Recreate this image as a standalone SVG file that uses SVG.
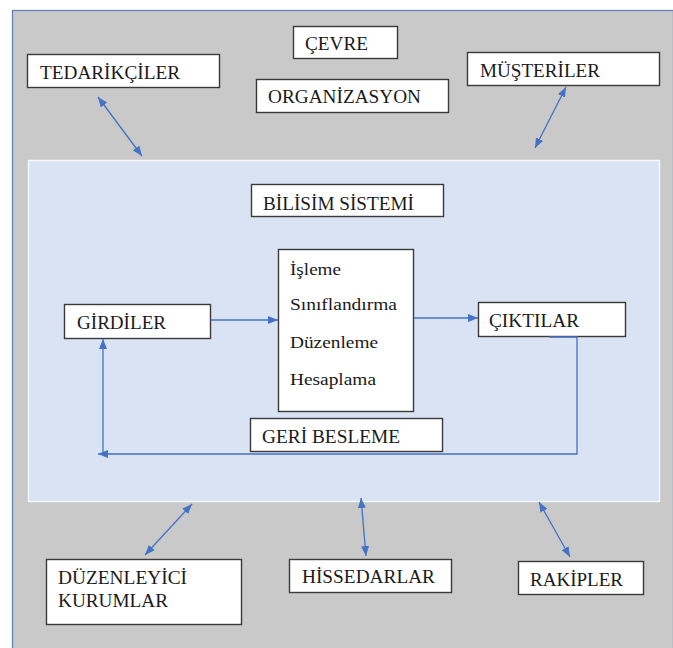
<svg xmlns="http://www.w3.org/2000/svg" width="673" height="648" viewBox="0 0 673 648">
<style>
.box{fill:#ffffff;stroke:#3a3a3a;stroke-width:1.4}
.t{font-size:19px;fill:#1a1a1a}
.p{font-size:16.5px;fill:#1a1a1a}
.c{fill:none;stroke:#4472c4;stroke-width:1.3}
</style>
<defs>
<marker id="ah" viewBox="0 0 10 8" refX="10" refY="4" markerWidth="10" markerHeight="8" markerUnits="userSpaceOnUse" orient="auto-start-reverse">
<path d="M0,0 L10,4 L0,8 z" fill="#4472c4"/>
</marker>
</defs>
<rect x="0" y="0" width="673" height="648" fill="#ffffff"/>
<rect id="frame" x="12.5" y="10.5" width="661" height="640" fill="#c9c9c9" stroke="#6683b5" stroke-width="1.3"/>
<rect id="bilisim-area" x="28.5" y="160.5" width="631" height="341" fill="#dae3f3" stroke="#f4f7fc" stroke-width="1.5"/>

<g font-family="Liberation Serif, Times New Roman, Tinos, Noto Serif, DejaVu Serif, serif">
<g id="cevre"><rect class="box" x="293.5" y="26.5" width="104" height="32"/><text class="t" x="305" y="50" textLength="63" lengthAdjust="spacingAndGlyphs">ÇEVRE</text></g>
<g id="organizasyon"><rect class="box" x="256.5" y="79.5" width="192" height="33"/><text class="t" x="268" y="103" textLength="153" lengthAdjust="spacingAndGlyphs">ORGANİZASYON</text></g>
<g id="tedarikciler"><rect class="box" x="27.5" y="54.5" width="192" height="33"/><text class="t" x="40" y="79" textLength="140" lengthAdjust="spacingAndGlyphs">TEDARİKÇİLER</text></g>
<g id="musteriler"><rect class="box" x="467.5" y="52.5" width="192" height="33"/><text class="t" x="480" y="77" textLength="120" lengthAdjust="spacingAndGlyphs">MÜŞTERİLER</text></g>
<g id="bilisim"><rect class="box" x="251.5" y="184.5" width="192" height="32"/><text class="t" x="263" y="210" textLength="151" lengthAdjust="spacingAndGlyphs">BİLİSİM SİSTEMİ</text></g>
<g id="girdiler"><rect class="box" x="64.5" y="304.5" width="146" height="34"/><text class="t" x="77" y="329" textLength="89" lengthAdjust="spacingAndGlyphs">GİRDİLER</text></g>
<g id="isleme"><rect class="box" x="278.5" y="249.5" width="135" height="162"/>
<text class="p" x="290" y="275" textLength="51" lengthAdjust="spacingAndGlyphs">İşleme</text>
<text class="p" x="290" y="310" textLength="107" lengthAdjust="spacingAndGlyphs">Sınıflandırma</text>
<text class="p" x="290" y="348" textLength="88" lengthAdjust="spacingAndGlyphs">Düzenleme</text>
<text class="p" x="290" y="385" textLength="86" lengthAdjust="spacingAndGlyphs">Hesaplama</text></g>
<g id="ciktilar"><rect class="box" x="478.5" y="302.5" width="147" height="34"/><text class="t" x="489" y="327" textLength="90" lengthAdjust="spacingAndGlyphs">ÇIKTILAR</text></g>
<g id="geribesleme"><rect class="box" x="250.5" y="418.5" width="192" height="33"/><text class="t" x="262" y="443" textLength="138" lengthAdjust="spacingAndGlyphs">GERİ BESLEME</text></g>
<g id="duzenleyici"><rect class="box" x="46.5" y="559.5" width="195" height="65"/><text class="t" x="58" y="584" textLength="129" lengthAdjust="spacingAndGlyphs">DÜZENLEYİCİ</text><text class="t" x="58" y="607" textLength="110" lengthAdjust="spacingAndGlyphs">KURUMLAR</text></g>
<g id="hissedarlar"><rect class="box" x="289.5" y="559.5" width="162" height="33"/><text class="t" x="302" y="583" textLength="133" lengthAdjust="spacingAndGlyphs">HİSSEDARLAR</text></g>
<g id="rakipler"><rect class="box" x="518.5" y="561.5" width="125" height="33"/><text class="t" x="530" y="586" textLength="93" lengthAdjust="spacingAndGlyphs">RAKİPLER</text></g>
</g>

<g id="connectors">
<line class="c" x1="98" y1="97" x2="142" y2="156" marker-start="url(#ah)" marker-end="url(#ah)"/>
<line class="c" x1="566" y1="87" x2="535" y2="148" marker-start="url(#ah)" marker-end="url(#ah)"/>
<line class="c" x1="192" y1="504" x2="145" y2="555" marker-start="url(#ah)" marker-end="url(#ah)"/>
<line class="c" x1="361" y1="498" x2="366" y2="556" marker-start="url(#ah)" marker-end="url(#ah)"/>
<line class="c" x1="539" y1="502" x2="570" y2="557" marker-start="url(#ah)" marker-end="url(#ah)"/>
<line class="c" x1="211" y1="320" x2="278" y2="320" marker-end="url(#ah)"/>
<line class="c" x1="414" y1="318" x2="478" y2="318" marker-end="url(#ah)"/>
<path class="c" d="M549,337 H577 V454 H98" marker-end="url(#ah)"/>
<line class="c" x1="103" y1="453" x2="103" y2="339" marker-end="url(#ah)"/>
</g>
</svg>
